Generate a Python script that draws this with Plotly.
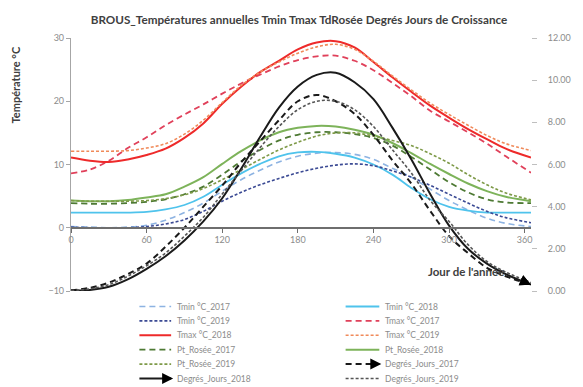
import plotly.graph_objects as go

# ---------------- data ----------------
days = [0, 15, 30, 45, 60, 75, 90, 105, 120, 135, 150, 165, 180,
        195, 210, 225, 240, 255, 270, 285, 300, 315, 330, 345, 365]

tmin_2017 = [0.2, 0.1, 0.0, 0.1, 0.4, 1.2, 2.4, 3.9, 5.8, 7.6, 9.1, 10.4, 11.3,
             11.8, 11.9, 11.6, 10.8, 9.4, 8.0, 6.1, 4.3, 2.8, 1.5, 0.7, 0.2]
tmin_2018 = [2.4, 2.4, 2.4, 2.4, 2.5, 2.9, 3.6, 4.9, 6.8, 8.6, 10.1, 11.3, 11.9,
             12.0, 11.7, 11.1, 10.0, 8.4, 6.3, 4.5, 3.3, 2.7, 2.4, 2.4, 2.4]
tmin_2019 = [0.1, 0.0, 0.0, 0.0, 0.2, 0.6, 1.3, 2.6, 4.2, 5.6, 6.8, 7.8, 8.7,
             9.4, 9.9, 10.1, 9.8, 9.0, 8.0, 6.7, 5.3, 3.9, 2.6, 1.6, 0.8]
tmax_2017 = [8.6, 9.2, 10.6, 12.6, 14.3, 16.2, 17.9, 19.5, 21.2, 22.8, 24.2, 25.5, 26.5,
             27.1, 27.2, 26.4, 24.9, 22.9, 20.8, 18.5, 16.8, 15.1, 13.3, 11.3, 8.7]
tmax_2018 = [11.1, 10.6, 10.4, 10.8, 11.5, 12.5, 14.2, 16.5, 19.6, 22.3, 24.6, 26.4, 28.2,
             29.3, 29.5, 28.5, 26.2, 23.8, 21.5, 19.3, 17.4, 15.6, 14.0, 12.5, 11.1]
tmax_2019 = [12.1, 12.1, 12.1, 12.2, 12.6, 13.3, 14.8, 17.0, 19.8, 22.5, 24.6, 26.2, 27.6,
             28.6, 29.0, 28.2, 26.3, 24.0, 21.8, 19.7, 17.9, 16.2, 14.6, 13.3, 12.2]
rosee_2017 = [3.9, 3.8, 3.8, 3.9, 4.1, 4.5, 5.3, 6.5, 8.4, 10.5, 12.3, 13.8, 14.7,
              15.1, 15.1, 14.8, 14.2, 13.0, 11.2, 9.2, 7.2, 5.6, 4.5, 4.0, 3.9]
rosee_2018 = [4.3, 4.2, 4.2, 4.4, 4.8, 5.3, 6.5, 8.0, 10.1, 12.1, 13.8, 15.1, 15.8,
              16.1, 16.0, 15.5, 14.7, 13.4, 11.8, 10.1, 8.5, 7.0, 5.8, 4.9, 4.2]
rosee_2019 = [4.3, 4.2, 4.2, 4.2, 4.3, 4.6, 5.2, 6.2, 7.6, 9.2, 10.8, 12.3, 13.5,
              14.5, 15.0, 15.0, 14.5, 13.8, 13.0, 11.7, 10.2, 8.4, 6.8, 5.5, 4.4]
dj_2017 = [0.03, 0.15, 0.4, 0.8, 1.3, 2.1, 3.0, 4.0, 5.0, 6.1, 7.1, 8.1, 9.0,
           9.3, 9.0, 8.4, 7.4, 6.2, 5.1, 3.8, 2.6, 1.8, 1.1, 0.7, 0.3]
dj_2018 = [0.03, 0.05, 0.2, 0.55, 1.05, 1.65, 2.4, 3.3, 4.4, 5.8, 7.3, 8.7, 9.7,
           10.25, 10.35, 9.9, 9.1, 7.75, 6.25, 4.6, 3.1, 2.0, 1.3, 0.8, 0.3]
dj_2019 = [0.03, 0.1, 0.3, 0.7, 1.2, 1.8, 2.6, 3.5, 4.6, 5.7, 6.8, 7.8, 8.6,
           9.0, 9.0, 8.6, 7.8, 6.7, 5.6, 4.3, 3.3, 2.2, 1.4, 0.9, 0.4]

series_names = ["Tmin °C_2017", "Tmin °C_2018", "Tmin °C_2019",
                "Tmax °C_2017", "Tmax °C_2018", "Tmax °C_2019",
                "Pt_Rosée_2017", "Pt_Rosée_2018", "Pt_Rosée_2019",
                "Degrés_Jours_2017", "Degrés_Jours_2018", "Degrés_Jours_2019"]
series_values = [tmin_2017, tmin_2018, tmin_2019,
                 tmax_2017, tmax_2018, tmax_2019,
                 rosee_2017, rosee_2018, rosee_2019,
                 dj_2017, dj_2018, dj_2019]

x_ticks = [0, 60, 120, 180, 240, 300, 360]
y_ticks = [-10, 0, 10, 20, 30]
y2_ticks = [0, 2, 4, 6, 8, 10, 12]

# ---------------- styles ----------------
DASH = "6px,4px"
DOT = "3px,2px"
styles = [
    dict(color="#8DB3E2", dash=DASH, width=1.6),   # Tmin 2017
    dict(color="#4FC3EC", dash="solid", width=1.8),  # Tmin 2018
    dict(color="#3B4A94", dash=DOT, width=1.6),   # Tmin 2019
    dict(color="#E0405A", dash=DASH, width=1.8),  # Tmax 2017
    dict(color="#EE2A2A", dash="solid", width=2.0),  # Tmax 2018
    dict(color="#F08A5A", dash=DOT, width=1.6),   # Tmax 2019
    dict(color="#4E7A34", dash=DASH, width=1.8),  # Rosée 2017
    dict(color="#7DB35A", dash="solid", width=2.0),  # Rosée 2018
    dict(color="#7E9A48", dash=DOT, width=1.6),   # Rosée 2019
    dict(color="#1A1A1A", dash=DASH, width=2.0),  # DJ 2017
    dict(color="#1A1A1A", dash="solid", width=2.0),  # DJ 2018
    dict(color="#555555", dash=DOT, width=1.6),   # DJ 2019
]
arrow_series = [9, 10]

# page body has an 8px margin: work in window pixels and subtract it
OFF = 8
W, H = 583 - OFF, 387 - OFF
L = 71 - OFF
T = 38 - OFF
R = W - (535 - OFF)
B = H - (291 - OFF)
PW, PH = W - L - R, H - T - B


def pxx(px):
    return (px - OFF - L) / PW


def pxy(py):
    return (H - B - (py - OFF)) / PH


FONT = "Lato"

fig = go.Figure()
for i, (name, vals) in enumerate(zip(series_names, series_values)):
    st = styles[i]
    fig.add_trace(go.Scatter(
        x=days, y=vals, name=name, mode="lines",
        yaxis="y2" if i >= 9 else "y",
        line=dict(color=st["color"], dash=st["dash"], width=st["width"],
                  shape="spline", smoothing=1.0),
        showlegend=False))

annotations = []
shapes = []

# arrow heads at the end of Degrés-Jours curves
for i in arrow_series:
    vals = series_values[i]
    annotations.append(dict(
        x=days[-1], y=vals[-1], xref="x", yref="y2",
        ax=-9, ay=-4, showarrow=True, arrowhead=2, arrowsize=1.1,
        arrowwidth=2, arrowcolor="#000000", text=""))

# manual legend (2 columns, row-major)
row_y0, row_step = 306.5, 14.4
col_x = [(140, 172, 176), (348, 382, 386)]
for i, name in enumerate(series_names):
    r, c = divmod(i, 2)
    py = row_y0 + r * row_step
    x0, x1, xt = col_x[c]
    st = styles[i]
    shapes.append(dict(type="line", xref="paper", yref="paper",
                       x0=pxx(x0), x1=pxx(x1), y0=pxy(py), y1=pxy(py),
                       line=dict(color=st["color"], dash=st["dash"], width=st["width"])))
    if i in arrow_series:
        annotations.append(dict(
            x=pxx(x1 + 2), y=pxy(py), xref="paper", yref="paper",
            ax=-6, ay=0, showarrow=True, arrowhead=2, arrowsize=1.1,
            arrowwidth=2, arrowcolor="#000000", text=""))
    annotations.append(dict(
        x=pxx(xt), y=pxy(py), xref="paper", yref="paper",
        text=name, showarrow=False, xanchor="left", yanchor="middle",
        font=dict(family=FONT, size=8.5, color="#8C8C8C")))

# axis titles
annotations.append(dict(
    x=pxx(15), y=pxy(85), xref="paper", yref="paper",
    text="<b>Température °C</b>", showarrow=False, textangle=-90,
    xanchor="center", yanchor="middle",
    font=dict(family=FONT, size=11, color="#404040")))
annotations.append(dict(
    x=pxx(469), y=pxy(271), xref="paper", yref="paper",
    text="<b>Jour de l'année</b>", showarrow=False,
    xanchor="center", yanchor="middle",
    font=dict(family=FONT, size=11.5, color="#404040")))

fig.update_layout(
    width=W, height=H,
    margin=dict(l=L, r=R, t=T, b=B, pad=0),
    paper_bgcolor="white", plot_bgcolor="white",
    title=dict(text="<b>BROUS_Températures annuelles Tmin Tmax TdRosée Degrés Jours de Croissance</b>",
               x=(299 - OFF) / W, xref="container", xanchor="center",
               y=1 - (20 - OFF) / H, yref="container", yanchor="middle",
               font=dict(family=FONT, size=11.7, color="#404040")),
    xaxis=dict(range=[0, 365], tickvals=x_ticks, showgrid=False, zeroline=False,
               showline=True, linecolor="#6E6E6E", linewidth=1.5,
               ticks="outside", ticklen=4, tickcolor="#6E6E6E",
               anchor="free", position=0.25,
               tickfont=dict(family=FONT, size=9, color="#8C8C8C")),
    yaxis=dict(range=[-10, 30], tickvals=y_ticks, showgrid=False, zeroline=False,
               showline=True, linecolor="#A6A6A6", linewidth=1.2,
               ticks="outside", ticklen=4, tickcolor="#A6A6A6",
               tickfont=dict(family=FONT, size=9, color="#8C8C8C")),
    yaxis2=dict(range=[0, 12], tickvals=y2_ticks, tickformat=".2f",
                overlaying="y", side="right", showgrid=False, zeroline=False,
                showline=False, ticks="outside", ticklen=5, tickcolor="#BFBFBF",
                ticklabelstandoff=9,
                tickfont=dict(family=FONT, size=9, color="#8C8C8C")),
    annotations=annotations,
    shapes=shapes,
)

fig.write_html("out.html")
